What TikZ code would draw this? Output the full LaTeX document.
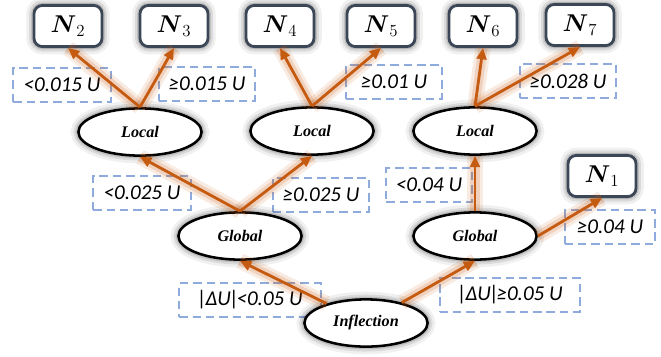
\documentclass[tikz,border=0pt]{standalone}
\usepackage{amsmath}
\usepackage{amssymb}
\usepackage{fontspec}
\newfontfamily\condfont{Carlito}
\newfontfamily\testfont{Liberation Serif}
\usepackage{tikz}
\usetikzlibrary{arrows.meta,calc,shapes.geometric}

\definecolor{branchorange}{RGB}{197,90,17}
\definecolor{leafline}{RGB}{59,70,87}
\definecolor{conddash}{RGB}{143,170,220}

\tikzset{
	glow/.style={
		preaction={draw=black, line width=11pt, opacity=0.06},
		preaction={draw=black, line width=7pt, opacity=0.09},
		preaction={draw=black, line width=4pt, opacity=0.12}},
	leaf/.style={glow, draw=leafline, line width=2pt, rounded corners=6pt, fill=white,
		minimum width=1.7cm, minimum height=1.03cm, inner sep=0pt,
		font=\fontsize{17}{19}\selectfont},
	test/.style={glow, ellipse, draw=black, line width=1.8pt, fill=white,
		minimum width=3.08cm, minimum height=1.18cm, inner sep=0pt,
		font=\testfont\bfseries\itshape\fontsize{11.5}{13}\selectfont},
	cond/.style={draw=conddash, line width=1.4pt, dash pattern=on 6pt off 3.5pt,
		minimum height=0.83cm, inner sep=0pt,
		font=\condfont\itshape\fontsize{15}{18}\selectfont},
	branch/.style={draw=branchorange, line width=2pt, -{Triangle[length=8pt,width=7pt]},
		preaction={draw=branchorange, -, line width=11pt, opacity=0.12},
		preaction={draw=branchorange, -, line width=6.5pt, opacity=0.18}}
}

\begin{document}
\begin{tikzpicture}[x=0.025cm, y=-0.025cm]
		\useasboundingbox (0,0) rectangle (661,356);
		% thresholds
		\node[cond, minimum width=2.44cm] (c2) at (62,85) {<0.015 U};
		\node[cond, minimum width=2.42cm] (c3) at (207,84) {≥0.015 U};
		\node[cond, minimum width=2.42cm] (c5) at (394,82) {≥0.01 U};
		\node[cond, minimum width=2.40cm] (c7) at (568,81) {≥0.028 U};
		\node[cond, minimum width=2.44cm] (cl) at (142,193) {<0.025 U};
		\node[cond, minimum width=2.42cm] (cr) at (321,195) {≥0.025 U};
		\node[cond, minimum width=2.14cm] (c6) at (429,185) {<0.04 U};
		\node[cond, minimum width=2.27cm] (c1) at (610,227) {≥0.04 U};
		\node[cond, minimum width=3.54cm] (ca) at (250,300) {|\kern-1pt ΔU\kern-1pt|\kern-2pt<0.05 U};
		\node[cond, minimum width=3.52cm] (cb) at (510,295) {|\kern-1pt ΔU\kern-1pt|\kern-2pt≥0.05 U};
		% tests
		\node[test] (inf) at (366,323) {Inflection};
		\node[test] (g1) at (240,236) {Global};
		\node[test] (g2) at (475,236) {Global};
		\node[test] (l1) at (140,132) {Local};
		\node[test] (l2) at (312,131) {Local};
		\node[test] (l3) at (475,131) {Local};
		% leaves
		\node[leaf] (n1) at (602,176) {$\boldsymbol{N}_1$};
		\node[leaf] (n2) at (68,26) {$\boldsymbol{N}_2$};
		\node[leaf] (n3) at (174,26) {$\boldsymbol{N}_3$};
		\node[leaf] (n4) at (280,26) {$\boldsymbol{N}_4$};
		\node[leaf] (n5) at (381,26) {$\boldsymbol{N}_5$};
		\node[leaf] (n6) at (483,26) {$\boldsymbol{N}_6$};
		\node[leaf] (n7) at (580,25) {$\boldsymbol{N}_7$};
		% branches
		\draw[branch] (inf) -- (g1.south);
		\draw[branch] (inf) -- (g2.south);
		\draw[branch] (g1.north) -- (l1.south);
		\draw[branch] (g1.north) -- (l2.south);
		\draw[branch] (g2.north) -- (l3.south);
		\draw[branch] (g2.east) -- (n1.south);
		\draw[branch] (l1.north) -- (n2.south);
		\draw[branch] (l1.north) -- (n3.south);
		\draw[branch] (l2.north) -- (n4.south);
		\draw[branch] (l2.north) -- (n5.south);
		\draw[branch] (l3.north) -- (n6.south);
		\draw[branch] (l3.north) -- (n7.south);
	\end{tikzpicture}
\end{document}
